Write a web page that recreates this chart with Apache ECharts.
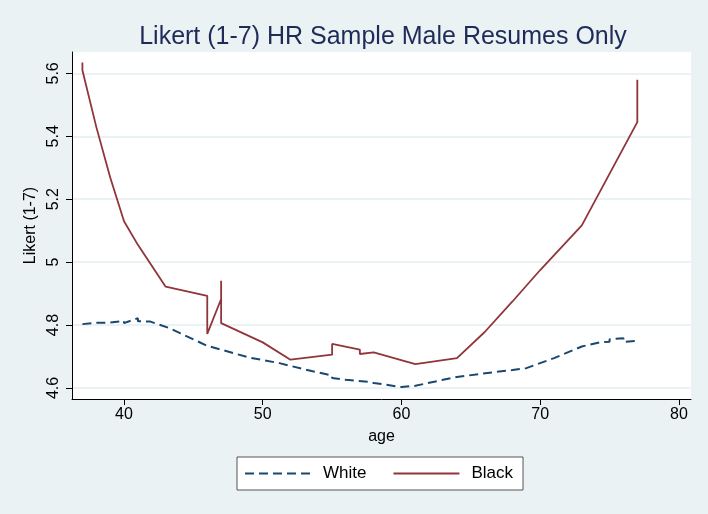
<!DOCTYPE html>
<html>
<head>
<meta charset="utf-8">
<script src="https://cdn.jsdelivr.net/npm/echarts@6/dist/echarts.min.js"></script>
<style>
html,body{margin:0;padding:0;background:#eaf2f3;}
#c{width:708px;height:514px;}
</style>
</head>
<body>
<div id="c"></div>
<script>
const titleText = "Likert (1-7) HR Sample Male Resumes Only";
const xTicks = [40, 50, 60, 70, 80];
const yTicks = [4.6, 4.8, 5, 5.2, 5.4, 5.6];

const whiteAge = [37, 38, 39, 40, 40, 41, 41, 41.9, 43.3, 44, 46, 47, 49, 51.2, 53.6, 55, 55, 56, 57.7, 58, 58, 60, 61, 63, 64, 66.6, 68, 69, 71, 73, 74.3, 75, 75, 76, 76, 76.9];
const whiteVal = [4.803, 4.807, 4.808, 4.813, 4.806, 4.822, 4.812, 4.811, 4.790, 4.775, 4.734, 4.722, 4.697, 4.679, 4.653, 4.640, 4.632, 4.626, 4.619, 4.616, 4.610, 4.603, 4.607, 4.626, 4.635, 4.650, 4.657, 4.663, 4.695, 4.732, 4.745, 4.747, 4.755, 4.758, 4.746, 4.750];

const blackAge = [37, 37, 38, 39, 40, 41, 43, 46, 46, 47, 47, 47, 50, 52, 55, 55, 57, 57, 58, 61, 64, 66, 68, 70, 73, 77, 77];
const blackVal = [5.635, 5.61, 5.43, 5.27, 5.13, 5.055, 4.922, 4.893, 4.772, 4.883, 4.941, 4.806, 4.745, 4.690, 4.706, 4.740, 4.722, 4.708, 4.713, 4.676, 4.695, 4.778, 4.875, 4.975, 5.117, 5.445, 5.58];

const fontFam = "'Liberation Sans', Arial, sans-serif";
const chart = echarts.init(document.getElementById('c'));
chart.setOption({
  backgroundColor: '#eaf2f3',
  animation: false,
  title: {
    text: titleText,
    left: 378, top: 20, textAlign: 'center',
    textStyle: {fontFamily: fontFam, fontSize: 25, fontWeight: 'normal', color: '#1e2b58'}
  },
  legend: {
    show: true,
    top: 457, left: 237,
    itemWidth: 66, itemHeight: 10, itemGap: 26,
    backgroundColor: '#ffffff', borderColor: '#555', borderWidth: 1, borderRadius: 0,
    padding: [8, 10, 8, 7],
    itemStyle: {color: 'transparent', borderColor: 'transparent', borderWidth: 0, opacity: 0},
    textStyle: {fontFamily: fontFam, fontSize: 17, color: '#000', padding: [0, 0, 0, 7]},
    data: ['White', 'Black']
  },
  grid: {left: 72, right: 17, top: 52, bottom: 115, backgroundColor: '#fff', show: true, borderWidth: 0},
  xAxis: {
    type: 'value', min: 36.25, max: 80.87,
    name: 'age', nameLocation: 'middle', nameGap: 30,
    nameTextStyle: {fontFamily: fontFam, fontSize: 16, color: '#000'},
    axisLine: {show: true, lineStyle: {color: '#000', width: 1}},
    axisTick: {show: true, length: 6, customValues: xTicks, lineStyle: {color: '#000'}},
    axisLabel: {customValues: xTicks, fontFamily: fontFam, fontSize: 16, color: '#000', margin: 8},
    splitLine: {show: false}
  },
  yAxis: {
    type: 'value', min: 4.565, max: 5.668,
    name: 'Likert (1-7)', nameLocation: 'middle', nameGap: 31, nameRotate: 90,
    nameTextStyle: {fontFamily: fontFam, fontSize: 16, color: '#000'},
    axisLine: {show: true, lineStyle: {color: '#000', width: 1}},
    axisTick: {show: true, length: 6, customValues: yTicks, lineStyle: {color: '#000'}},
    axisLabel: {customValues: yTicks, rotate: 90, fontFamily: fontFam, fontSize: 16, color: '#000', margin: 10},
    splitLine: {show: true, lineStyle: {color: '#eaf2f3', width: 2}}
  },
  series: [
    {
      name: 'White', type: 'line', showSymbol: false, symbol: 'none',
      data: whiteAge.map((a, i) => [a, whiteVal[i]]),
      lineStyle: {color: '#1a476f', width: 2, type: [9, 5]},
      itemStyle: {color: '#1a476f'}
    },
    {
      name: 'Black', type: 'line', showSymbol: false, symbol: 'none',
      data: blackAge.map((a, i) => [a, blackVal[i]]),
      lineStyle: {color: '#90353b', width: 1.8},
      itemStyle: {color: '#90353b'}
    }
  ]
});
</script>
</body>
</html>
